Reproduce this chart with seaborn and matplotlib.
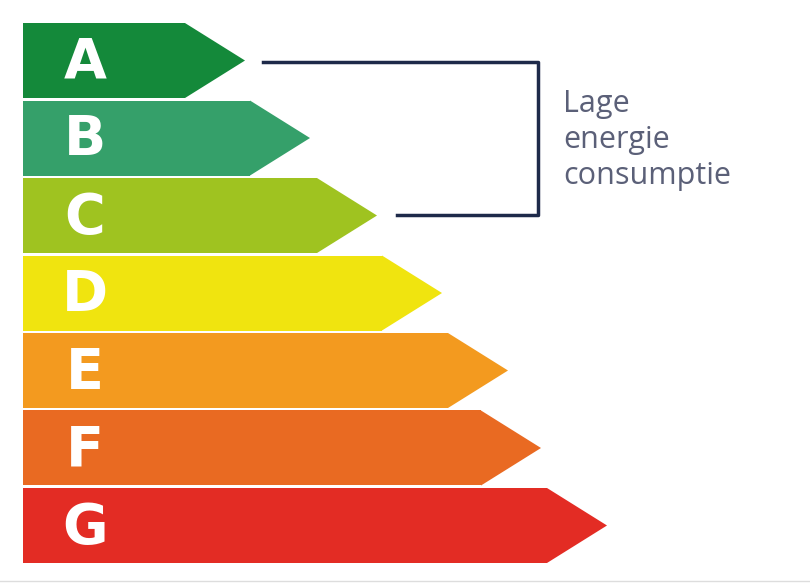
import matplotlib
matplotlib.use("Agg")
import matplotlib.pyplot as plt
import seaborn as sns
import pandas as pd
from matplotlib.patches import Polygon

labels = ["A", "B", "C", "D", "E", "F", "G"]
tip_values = [222, 287, 354, 419, 485, 518, 584]   # arrow length incl. tip
colors = ["#14893a", "#35a06a", "#9fc320", "#f0e40f", "#f39a1f", "#e96a22", "#e32c24"]
bracket_text = "Lage\nenergie\nconsumptie"

TIP = 60
df = pd.DataFrame({"label": labels, "body": [v - TIP for v in tip_values]})

fig = plt.figure(figsize=(8.1, 5.84), dpi=100)
ax = fig.add_axes([0, 0, 1, 1])
sns.barplot(data=df, x="body", y="label", hue="label", palette=colors, orient="h",
            width=75/77.5, legend=False, ax=ax, saturation=1)
ax.set_xlim(-23, 787)
ax.set_ylim(6.755, -0.781)
ax.axis("off")
h = 75/77.5/2
for i, (v, c, lab) in enumerate(zip(tip_values, colors, labels)):
    b = v - TIP
    ax.add_patch(Polygon([(b, i - h), (v, i), (b, i + h)], closed=True, color=c, lw=0))
    ax.text(62, i + 0.03, lab, color="white", fontsize=40, fontweight="bold",
            ha="center", va="center", family="DejaVu Sans")

ov = fig.add_axes([0, 0, 1, 1])
ov.set_xlim(0, 810); ov.set_ylim(584, 0); ov.axis("off")
ov.plot([263, 538, 538, 397], [62, 62, 215, 215], color="#1e2a4a", lw=2.5)
ov.text(563, 140, bracket_text, color="#5b6078", fontsize=22, va="center", ha="left",
        family="Open Sans", linespacing=1.25)
ov.plot([0, 810], [581, 581], color="#dddddd", lw=1)
fig.savefig("out.png", dpi=100)
